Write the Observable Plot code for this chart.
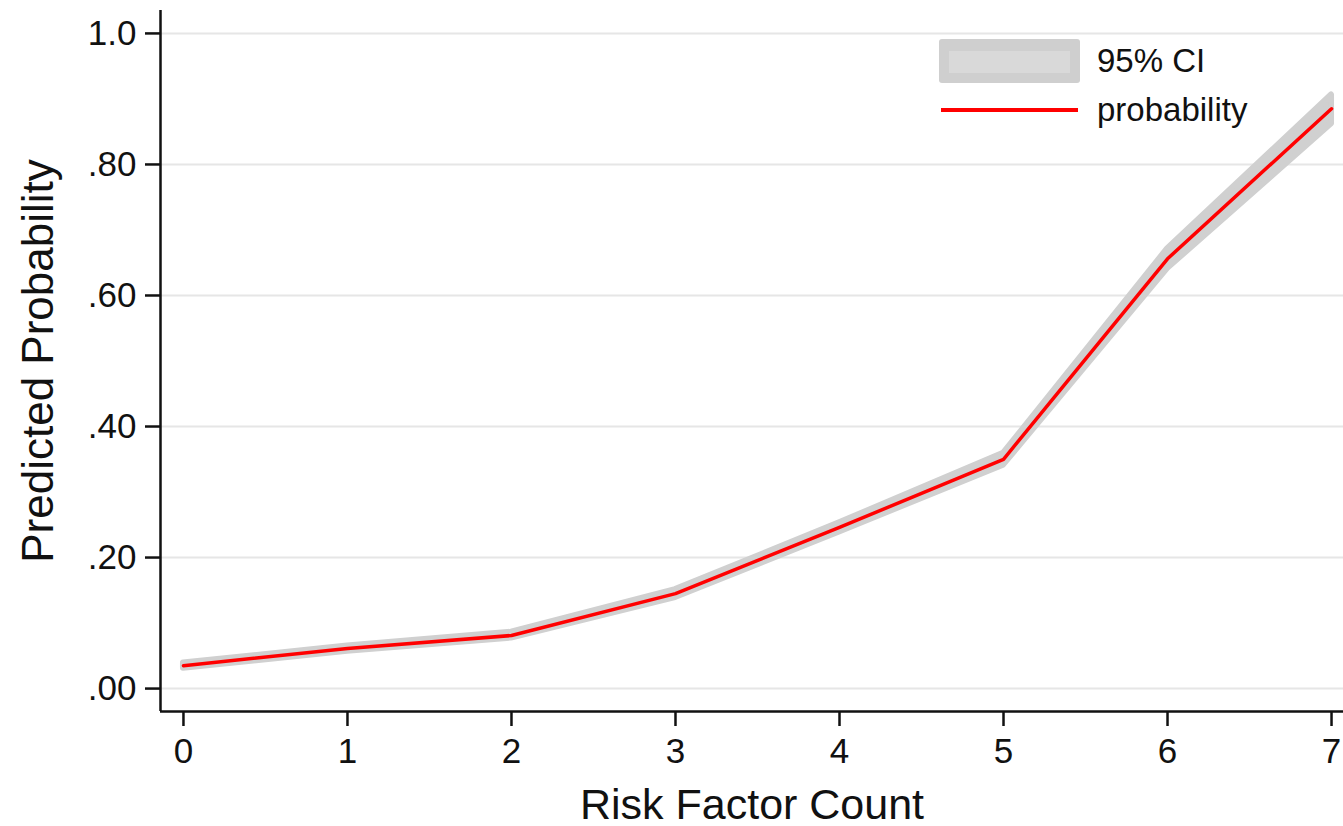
<!DOCTYPE html>
<html>
<head>
<meta charset="utf-8">
<script src="https://cdn.jsdelivr.net/npm/d3@7"></script>
<script src="https://cdn.jsdelivr.net/npm/@observablehq/plot@0.6"></script>
<style>
  html, body { margin: 0; padding: 0; background: #fff; }
  #wrap { position: relative; width: 1343px; height: 826px; font-family: "Liberation Sans", Arial, sans-serif; }
  #legend { position: absolute; left: 939px; top: 39px; }
  .row { position: absolute; display: flex; align-items: center; white-space: nowrap; font-size: 33px; color: #111; }
  .sw-ci { width: 141px; height: 44px; background: #cfcfcf; border-radius: 3px; position: relative; }
  .sw-ci::after { content: ""; position: absolute; left: 10px; right: 10px; top: 12px; bottom: 10px; background: #d9d9d9; }
  .sw-line { width: 137px; height: 4px; background: #ff0000; margin-left: 2px; margin-right: 2px; }
</style>
</head>
<body>
<div id="wrap">
  <div id="chart"></div>
  <div id="legend">
    <div class="row" style="left:0;top:0;"><div class="sw-ci"></div><span style="margin-left:17px;">95% CI</span></div>
    <div class="row" style="left:0;top:52px;"><div class="sw-line"></div><span style="margin-left:17px;">probability</span></div>
  </div>
</div>
<script>
const riskCount = [0, 1, 2, 3, 4, 5, 6, 7];
const probability = [0.035, 0.061, 0.081, 0.145, 0.246, 0.350, 0.656, 0.885];
const ciLower = [0.031, 0.057, 0.077, 0.139, 0.239, 0.341, 0.641, 0.862];
const ciUpper = [0.039, 0.065, 0.086, 0.151, 0.253, 0.359, 0.671, 0.906];
const yTicks = [0, 0.2, 0.4, 0.6, 0.8, 1.0];
const yTickLabels = [".00", ".20", ".40", ".60", ".80", "1.0"];
const xTicks = [0, 1, 2, 3, 4, 5, 6, 7];
const xTickLabels = ["0", "1", "2", "3", "4", "5", "6", "7"];

const data = riskCount.map((x, i) => ({x, p: probability[i], lo: ciLower[i], hi: ciUpper[i]}));
const xDomain = [-0.14, 7.073];
const yDomain = [-0.035, 1.035];

const chart = Plot.plot({
  width: 1343,
  height: 826,
  marginLeft: 160,
  marginRight: 0,
  marginTop: 10,
  marginBottom: 115,
  style: {fontFamily: '"Liberation Sans", Arial, sans-serif', background: "#fff", color: "#111", overflow: "visible"},
  x: {domain: xDomain, label: null},
  y: {domain: yDomain, label: null},
  marks: [
    Plot.gridY(yTicks, {stroke: "#e6e6e6", strokeOpacity: 1, strokeWidth: 2}),
    Plot.areaY(data, {x: "x", y1: "lo", y2: "hi", fill: "#d0d0d0", stroke: "#d0d0d0", strokeWidth: 6, strokeLinejoin: "round"}),
    Plot.lineY(data, {x: "x", y: "p", stroke: "#ff0000", strokeWidth: 3.5}),
    Plot.ruleX([xDomain[0]], {stroke: "#111", strokeWidth: 2.5}),
    Plot.ruleY([yDomain[0]], {stroke: "#111", strokeWidth: 2.5}),
    Plot.axisY(yTicks, {tickSize: 15, tickPadding: 9, tickFormat: d => yTickLabels[yTicks.indexOf(d)], fontSize: 35, stroke: "#111", strokeWidth: 2.5, label: null}),
    Plot.axisX(xTicks, {tickSize: 15, tickPadding: 12, tickFormat: d => xTickLabels[xTicks.indexOf(d)], fontSize: 35, stroke: "#111", strokeWidth: 2.5, label: null}),
    Plot.text(["Risk Factor Count"], {frameAnchor: "bottom", dy: 107, fontSize: 43, fill: "#111", lineAnchor: "bottom"}),
    Plot.text(["Predicted Probability"], {frameAnchor: "left", textAnchor: "middle", dx: -122, rotate: -90, fontSize: 44, fill: "#111"})
  ]
});
document.getElementById("chart").appendChild(chart);
</script>
</body>
</html>
